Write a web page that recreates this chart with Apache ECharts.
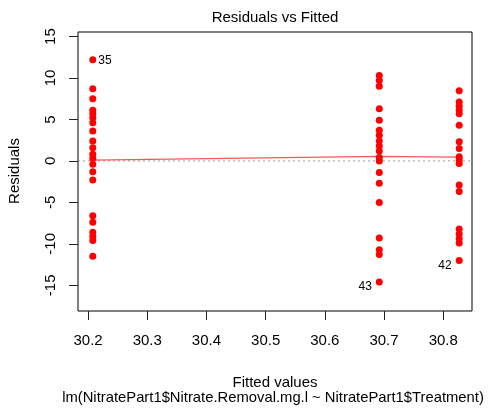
<!DOCTYPE html>
<html>
<head>
<meta charset="utf-8">
<script src="https://cdn.jsdelivr.net/npm/echarts@6/dist/echarts.min.js"></script>
<style>html,body{margin:0;padding:0;background:#fff}#c{width:488px;height:417px}</style>
</head>
<body>
<div id="c"></div>
<script>
// Fitted values (one per treatment group)
const fittedValues = [30.208, 30.692, 30.827];
// Residuals per group
const residualsG1 = [12.2, 8.7, 7.5, 6.1, 5.7, 5.2, 4.6, 3.6, 2.4, 1.6, 0.8, 0.3, -0.4, -1.3, -2.3, -6.6, -7.4, -8.6, -9.1, -9.6, -11.5];
const residualsG2 = [10.3, 9.7, 9.0, 6.3, 4.9, 3.7, 3.1, 2.4, 1.8, 1.2, 0.4, 0.0, -1.4, -2.7, -5.0, -9.3, -10.7, -11.3, -14.6];
const residualsG3 = [8.45, 7.1, 6.6, 6.1, 5.7, 4.3, 2.3, 1.5, 0.5, 0.1, -0.3, -2.9, -3.7, -8.2, -8.8, -9.4, -9.9, -12.0];
// Smoother (lowess) values at each fitted value
const smoothValues = [0.1, 0.55, 0.45];
// Labelled extreme observations
const idLabels = ['35', '43', '42'];
const idGroups = [0, 1, 2];
const idValues = [12.2, -14.6, -12.0];
// Axis ticks
const xTicks = [30.2, 30.3, 30.4, 30.5, 30.6, 30.7, 30.8];
const yTicks = [-15, -10, -5, 0, 5, 10, 15];
const titleText = 'Residuals vs Fitted';
const xTitle = 'Fitted values';
const subTitle = 'lm(NitratePart1$Nitrate.Removal.mg.l ~ NitratePart1$Treatment)';
const yTitle = 'Residuals';

const FONT = '"Liberation Sans", Arial, sans-serif';
const groups = [residualsG1, residualsG2, residualsG3];
const xMin = 30.183, xMax = 30.8486;
const xMid = (xMin + xMax) / 2;

const pts = [];
groups.forEach((g, gi) => {
  g.forEach(v => {
    const item = { value: [fittedValues[gi], v] };
    for (let k = 0; k < idLabels.length; k++) {
      if (idGroups[k] === gi && idValues[k] === v) {
        const right = fittedValues[gi] < xMid;
        item.label = {
          show: true, formatter: idLabels[k],
          position: right ? 'right' : 'left',
          distance: right ? 2 : 4,
          offset: right ? [0, 1] : [0, 5],
          fontSize: 12, color: '#000', fontFamily: FONT
        };
      }
    }
    pts.push(item);
  });
});

const chart = echarts.init(document.getElementById('c'), null, { renderer: 'canvas' });
chart.setOption({
  animation: false,
  backgroundColor: '#fff',
  grid: { left: 78, top: 32, width: 394, height: 279, show: true, borderColor: '#000', borderWidth: 1, backgroundColor: 'transparent' },
  xAxis: {
    type: 'value', min: xMin, max: xMax,
    splitLine: { show: false },
    axisLine: { show: false, onZero: false },
    axisTick: { show: true, customValues: xTicks, length: 9, lineStyle: { color: '#222' } },
    axisLabel: { customValues: xTicks, margin: 22, fontSize: 15, color: '#000', fontFamily: FONT, formatter: v => v.toFixed(1) }
  },
  yAxis: {
    type: 'value', min: -18.1, max: 15.55,
    splitLine: { show: false },
    axisLine: { show: false, onZero: false },
    axisTick: { show: true, customValues: yTicks, length: 9, lineStyle: { color: '#222' } },
    axisLabel: { customValues: yTicks, margin: 20, rotate: 90, fontSize: 15, color: '#000', fontFamily: FONT }
  },
  graphic: [
    { type: 'text', style: { text: titleText, x: 275, y: 18, textAlign: 'center', textVerticalAlign: 'middle', font: '15px ' + FONT, fill: '#000' } },
    { type: 'text', style: { text: xTitle, x: 275, y: 383, textAlign: 'center', textVerticalAlign: 'middle', font: '15px ' + FONT, fill: '#000' } },
    { type: 'text', style: { text: subTitle, x: 273, y: 398, textAlign: 'center', textVerticalAlign: 'middle', font: '14.8px ' + FONT, fill: '#000' } },
    { type: 'text', x: 15, y: 171, rotation: Math.PI / 2, style: { text: yTitle, x: 0, y: 0, textAlign: 'center', textVerticalAlign: 'middle', font: '15px ' + FONT, fill: '#000' } }
  ],
  series: [
    {
      type: 'line', data: [[xMin, 0], [xMax, 0]], symbol: 'none',
      lineStyle: { color: '#999', width: 1, type: [2, 3] }, z: 1, silent: true
    },
    {
      type: 'line', data: fittedValues.map((x, i) => [x, smoothValues[i]]), symbol: 'none',
      lineStyle: { color: '#f55', width: 1.2 }, z: 2, silent: true
    },
    {
      type: 'scatter', data: pts, symbol: 'circle', symbolSize: 7,
      itemStyle: { color: '#ff0000', opacity: 1 }, z: 3
    }
  ]
});
</script>
</body>
</html>
